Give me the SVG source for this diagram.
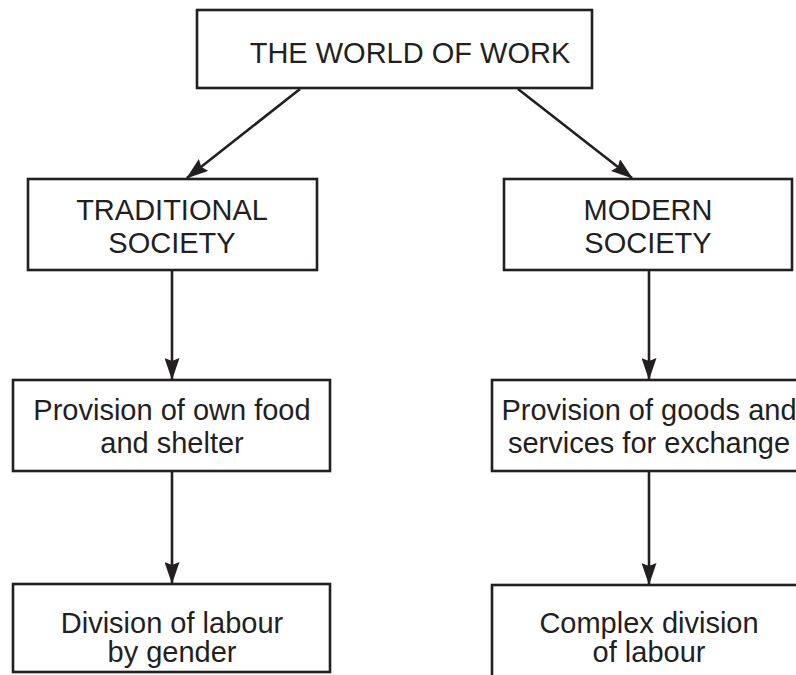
<svg xmlns="http://www.w3.org/2000/svg" width="796" height="675" viewBox="0 0 796 675">
<style>
.box{fill:#fff;stroke:#231f20;stroke-width:2.6}
.t{font-family:"Liberation Sans",Arial,sans-serif;font-size:29px;fill:#231f20;text-anchor:middle}
.c{stroke:#231f20;stroke-width:2.6;fill:none;marker-end:url(#ah)}
</style>
<defs>
<marker id="ah" markerUnits="userSpaceOnUse" markerWidth="22" markerHeight="15" refX="21" refY="7.5" orient="auto">
<path d="M0,0 L22,7.5 L0,15 L3,7.5 z" fill="#231f20"/>
</marker>
</defs>
<rect width="796" height="675" fill="#fff"/>
<g id="connectors">
<line class="c" x1="300" y1="89" x2="187" y2="178"/>
<line class="c" x1="518" y1="89" x2="632" y2="178"/>
<line class="c" x1="172" y1="271" x2="172" y2="379"/>
<line class="c" x1="649" y1="271" x2="649" y2="379"/>
<line class="c" x1="172" y1="471" x2="172" y2="583"/>
<line class="c" x1="649" y1="471" x2="649" y2="584"/>
</g>
<g id="world">
<rect class="box" x="197" y="10" width="395" height="78"/>
<text class="t" x="410" y="63">THE WORLD OF WORK</text>
</g>
<g id="traditional">
<rect class="box" x="28" y="179" width="289" height="91"/>
<text class="t" x="172" y="220">TRADITIONAL</text>
<text class="t" x="172" y="253">SOCIETY</text>
</g>
<g id="modern">
<rect class="box" x="504" y="179" width="288" height="91"/>
<text class="t" x="648" y="220">MODERN</text>
<text class="t" x="648" y="253">SOCIETY</text>
</g>
<g id="own-food">
<rect class="box" x="13" y="380" width="317" height="91"/>
<text class="t" x="172" y="420">Provision of own food</text>
<text class="t" x="172" y="453">and shelter</text>
</g>
<g id="goods">
<rect class="box" x="492" y="380" width="316" height="91"/>
<text class="t" x="649" y="420">Provision of goods and</text>
<text class="t" x="649" y="453">services for exchange</text>
</g>
<g id="gender">
<rect class="box" x="13" y="584" width="317" height="88"/>
<text class="t" x="172" y="633">Division of labour</text>
<text class="t" x="172" y="662">by gender</text>
</g>
<g id="complex">
<rect class="box" x="492" y="585" width="316" height="100"/>
<text class="t" x="649" y="633">Complex division</text>
<text class="t" x="649" y="662">of labour</text>
</g>
</svg>
